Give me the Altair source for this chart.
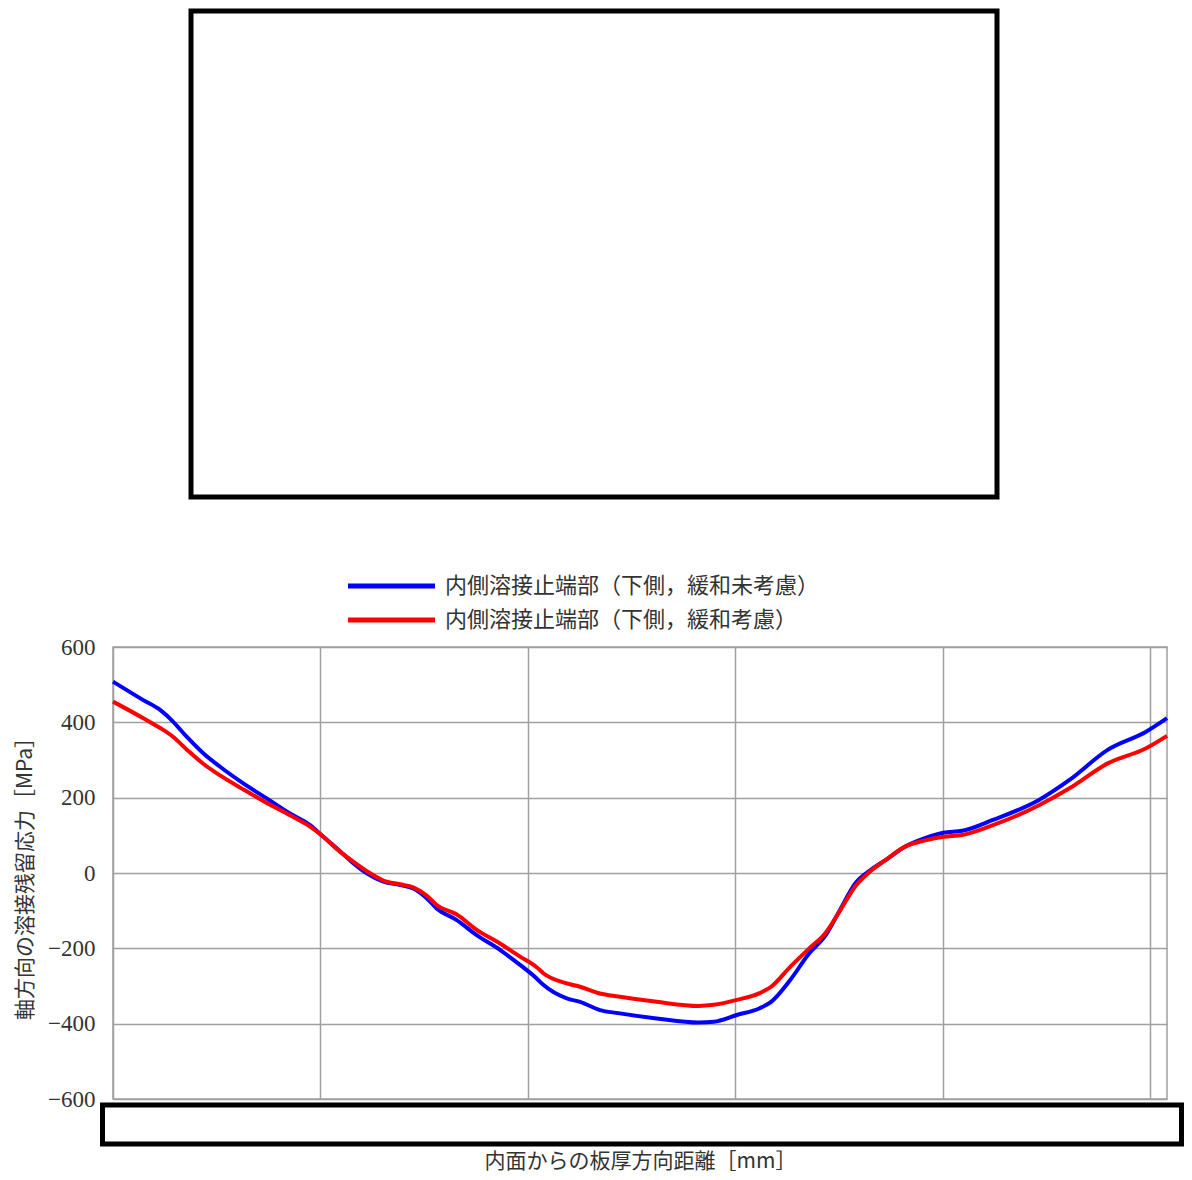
import altair as alt
import pandas as pd

# Data (x in mm, y in MPa)
x_mm = [0.00, 1.46, 2.27, 2.82, 3.55, 4.35, 5.16, 6.28, 7.41, 8.53, 9.50, 10.14,
        10.78, 11.58, 12.23, 13.03, 13.83, 14.47, 15.12, 15.60, 16.57, 17.53,
        18.65, 19.62, 20.42, 20.74, 21.87, 22.51, 23.47, 24.35, 26.20, 28.22,
        28.96, 30.07, 31.17, 31.72, 32.64, 33.56, 34.30, 35.04, 35.78, 36.51,
        37.25, 38.17, 39.10, 40.02, 40.94, 42.41, 44.63, 46.10, 47.94, 49.79, 50.80]

blue_vals = [508, 459, 433, 406, 362, 318, 282, 238, 198, 158, 127, 96,
             66, 26, -1, -23, -32, -41, -67, -94, -125, -165,
             -204, -244, -280, -297, -333, -342, -364, -372, -386, -397,
             -395, -377, -359, -342, -284, -213, -169, -98, -27, 8,
             35, 70, 92, 107, 112, 141, 194, 247, 327, 375, 411]

red_vals = [455, 411, 385, 365, 328, 290, 259, 222, 186, 153, 123, 96,
            64, 30, 5, -20, -30, -38, -60, -85, -110, -151,
            -187, -222, -250, -266, -293, -302, -320, -328, -342, -353,
            -350, -337, -319, -302, -249, -200, -162, -100, -35, 5,
            35, 70, 86, 96, 101, 127, 180, 225, 291, 331, 364]

series_names = ["内側溶接止端部（下側，緩和未考慮）", "内側溶接止端部（下側，緩和考慮）"]
series_colors = ["#0000ff", "#ff0000"]

y_ticks = [-600, -400, -200, 0, 200, 400, 600]
x_ticks = [0, 10, 20, 30, 40, 50]

x_title = "内面からの板厚方向距離［mm］"
y_title = "軸方向の溶接残留応力［MPa］"

rows = []
for xv, b, r in zip(x_mm, blue_vals, red_vals):
    rows.append({"x": xv, "y": b, "series": series_names[0]})
    rows.append({"x": xv, "y": r, "series": series_names[1]})
df = pd.DataFrame(rows)

FONT_NUM = "Liberation Serif"
FONT_JP = "Noto Sans CJK JP"

lines = alt.Chart(df).mark_line(strokeWidth=4, interpolate="monotone").encode(
    x=alt.X("x:Q",
            scale=alt.Scale(domain=[0, 50.8], nice=False, zero=False),
            axis=alt.Axis(values=x_ticks, labels=False, ticks=False, domain=False,
                          grid=True, gridColor="#a0a0a0", gridWidth=1.5,
                          title=x_title, titleFont=FONT_JP, titleFontSize=21,
                          titleFontWeight="normal", titleColor="#333333",
                          titleY=62, titleBaseline="middle")),
    y=alt.Y("y:Q",
            scale=alt.Scale(domain=[-600, 600], nice=False),
            axis=alt.Axis(values=y_ticks, ticks=False, domain=False, labelPadding=18,
                          labelFont=FONT_NUM, labelFontSize=23, labelColor="#333333",
                          grid=True, gridColor="#a0a0a0", gridWidth=1.5,
                          title=y_title, titleFont=FONT_JP, titleFontSize=21,
                          titleFontWeight="normal", titleColor="#333333",
                          titleX=-88, titleY=226, titleAngle=-90,
                          titleAlign="center", titleBaseline="middle")),
    color=alt.Color("series:N", scale=alt.Scale(domain=series_names, range=series_colors),
                    legend=None),
    detail="series:N",
)

box_df = pd.DataFrame({"k": [0]})

top_box = alt.Chart(box_df).mark_rect(fill="white", stroke="black", strokeWidth=5).encode(
    x=alt.value(78), x2=alt.value(884), y=alt.value(-636), y2=alt.value(-150)
)
bottom_box = alt.Chart(box_df).mark_rect(fill="white", stroke="black", strokeWidth=5).encode(
    x=alt.value(-10.5), x2=alt.value(1068.5), y=alt.value(458), y2=alt.value(497)
)

leg_df = pd.DataFrame({"series": series_names, "color": series_colors})
legend_layers = []
for i, (name, col) in enumerate(zip(series_names, series_colors)):
    ypos = -61 if i == 0 else -27
    base = alt.Chart(leg_df).transform_filter(alt.datum.series == name)
    legend_layers.append(
        base.mark_rule(strokeWidth=5, color=col).encode(
            x=alt.value(235), x2=alt.value(322), y=alt.value(ypos)
        )
    )
    legend_layers.append(
        base.mark_text(align="left", baseline="middle", font=FONT_JP, fontSize=22,
                       color="#333333").encode(
            text="series:N", x=alt.value(332), y=alt.value(ypos)
        )
    )

chart = alt.layer(lines, bottom_box, top_box, *legend_layers).properties(
    width=1054,
    height=452,
    padding={"left": 105, "top": 639, "right": 17, "bottom": 73},
    autosize=alt.AutoSizeParams(type="none"),
).configure_view(stroke="#a0a0a0", strokeWidth=1.5)

chart.save("out.html", embed_options={"renderer": "svg", "actions": False})
